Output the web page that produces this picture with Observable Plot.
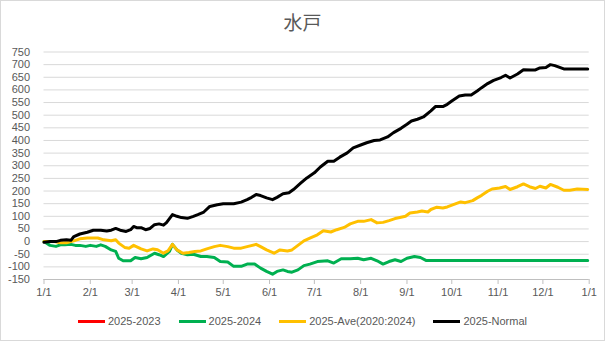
<!DOCTYPE html>
<html>
<head>
<meta charset="utf-8">
<script src="https://cdn.jsdelivr.net/npm/d3@7"></script>
<script src="https://cdn.jsdelivr.net/npm/@observablehq/plot@0.6"></script>
<style>
  html, body { margin: 0; padding: 0; background: #fff; }
  #chart { position: relative; width: 605px; height: 341px; background: #fff; overflow: hidden; font-family: "Liberation Sans", Arial, sans-serif; color: #595959; }
  #frame { position: absolute; left: 0; top: 0; width: 605px; height: 341px; box-sizing: border-box; border: 1px solid #d9d9d9; pointer-events: none; }
  #title { position: absolute; left: 0; width: 605px; top: 12px; text-align: center; font-family: "Noto Sans CJK JP", sans-serif; font-size: 19px; line-height: 19px; color: #595959; }
  #plot { position: absolute; left: 0; top: 34px; }
  #legend { position: absolute; left: 0; width: 605px; top: 313px; display: flex; justify-content: center; gap: 18px; font-size: 11px; line-height: 16px; }
  .item { display: flex; align-items: center; gap: 3px; }
  .sw { width: 27px; height: 3px; }
</style>
</head>
<body>
<div id="chart">
  <div id="title">水戸</div>
  <div id="plot"></div>
  <div id="legend"></div>
  <div id="frame"></div>
</div>
<script>
// Series names and colours
const seriesNames = ["2025-2023", "2025-2024", "2025-Ave(2020:2024)", "2025-Normal"];
const seriesColors = ["#FF0000", "#00B050", "#FFC000", "#000000"];

// Day offsets from 2025-01-01 and values
const redDay = [];
const redVal = [];

const greenDay = [0,4,8,11,14,18,21,24,28,31,35,38,41,45,48,50,53,58,61,65,69,74,77,80,84,86,89,92,96,100,105,109,114,118,123,127,132,136,141,145,149,153,156,160,163,166,170,174,178,183,190,194,199,205,210,214,219,223,227,231,235,239,243,248,252,256,364];
const greenVal = [0,-15,-19,-13,-13,-11,-15,-15,-19,-15,-19,-13,-19,-33,-39,-66,-76,-76,-63,-68,-63,-46,-52,-59,-39,-11,-33,-46,-52,-50,-59,-59,-63,-79,-81,-98,-98,-89,-89,-105,-118,-129,-118,-112,-118,-121,-112,-95,-89,-79,-76,-85,-68,-68,-66,-72,-66,-76,-89,-79,-72,-79,-66,-59,-63,-75,-75];

const yellowDay = [0,7,11,15,20,24,29,36,40,45,48,50,54,57,60,65,69,73,76,80,83,86,89,93,97,101,105,109,114,118,123,127,132,136,142,145,149,154,158,163,166,170,174,178,183,187,192,196,201,205,210,214,219,223,227,231,235,239,242,245,250,253,257,259,263,267,270,274,279,282,287,290,293,297,300,305,309,312,317,321,325,329,332,336,339,344,348,352,357,364];
const yellowVal = [0,0,-5,-5,3,11,14,14,7,3,7,-6,-23,-26,-15,-29,-37,-29,-32,-46,-37,-11,-33,-46,-43,-39,-37,-29,-20,-15,-20,-26,-26,-20,-11,-20,-33,-46,-33,-37,-33,-15,3,14,27,43,38,47,56,70,80,80,87,74,76,83,91,96,100,113,117,121,117,127,136,133,137,146,157,154,162,173,183,199,208,212,218,206,217,228,217,210,219,212,226,215,203,203,208,206];

const blackDay = [0,4,8,11,15,18,20,24,29,33,38,42,45,48,51,55,58,60,62,65,68,71,74,77,80,82,86,89,92,96,100,103,107,111,116,120,127,132,136,139,142,145,149,153,156,160,164,167,172,176,181,185,190,194,198,203,207,212,216,221,225,230,234,239,243,246,250,254,259,262,267,270,273,278,282,286,290,293,297,301,306,309,312,317,321,326,329,332,336,339,342,348,355,359,364];
const blackVal = [-3,0,0,5,7,5,20,30,37,45,45,42,45,52,45,40,47,60,55,55,47,52,67,70,65,75,107,100,95,92,100,107,117,139,146,150,150,156,166,175,186,182,173,166,175,189,193,206,232,252,272,295,318,318,334,351,371,382,391,400,402,414,431,448,464,477,484,493,517,534,534,543,556,576,580,580,596,609,625,638,649,658,647,663,680,679,679,687,689,700,696,683,683,683,683];

// Axis ticks
const yTicks = d3.range(-150, 751, 50);
const start = new Date(Date.UTC(2025, 0, 1));
const end = new Date(Date.UTC(2026, 0, 1));
const xTicks = d3.utcMonth.range(start, d3.utcDay.offset(end, 1));

const toDate = d => new Date(start.getTime() + d * 864e5);
const allDays = [redDay, greenDay, yellowDay, blackDay];
const allVals = [redVal, greenVal, yellowVal, blackVal];
const rows = [];
allDays.forEach((days, i) => days.forEach((d, j) => rows.push({date: toDate(d), value: allVals[i][j], series: seriesNames[i]})));

const fmt = d => `${d.getUTCMonth() + 1}/${d.getUTCDate()}`;

const chart = Plot.plot({
  width: 605,
  height: 272,
  marginLeft: 43.5,
  marginRight: 16.3,
  marginTop: 17.5,
  marginBottom: 27,
  style: {fontFamily: "Liberation Sans, Arial, sans-serif", fontSize: "11px", color: "#595959", background: "transparent"},
  x: {type: "utc", domain: [start, end], label: null},
  y: {domain: [-150, 750], label: null},
  color: {domain: seriesNames, range: seriesColors},
  marks: [
    Plot.ruleY(yTicks, {stroke: "#d9d9d9", strokeWidth: 1}),
    Plot.ruleY([-150], {stroke: "#bfbfbf", strokeWidth: 1}),
    Plot.axisY({ticks: yTicks, tickSize: 0, tickPadding: 14, tickFormat: d => String(d), label: null}),
    Plot.axisX({ticks: xTicks, tickSize: 5, tickFormat: () => "", stroke: "#bfbfbf", label: null}),
    Plot.axisX({ticks: xTicks, tickSize: 0, tickPadding: 9, tickFormat: fmt, label: null}),
    Plot.line(rows, {x: "date", y: "value", z: "series", stroke: "series", strokeWidth: 3, strokeLinejoin: "round", strokeLinecap: "round"})
  ]
});
document.getElementById("plot").appendChild(chart);

const legend = document.getElementById("legend");
seriesNames.forEach((name, i) => {
  const item = document.createElement("div");
  item.className = "item";
  const sw = document.createElement("div");
  sw.className = "sw";
  sw.style.background = seriesColors[i];
  const tx = document.createElement("span");
  tx.textContent = name;
  item.appendChild(sw);
  item.appendChild(tx);
  legend.appendChild(item);
});
</script>
</body>
</html>
